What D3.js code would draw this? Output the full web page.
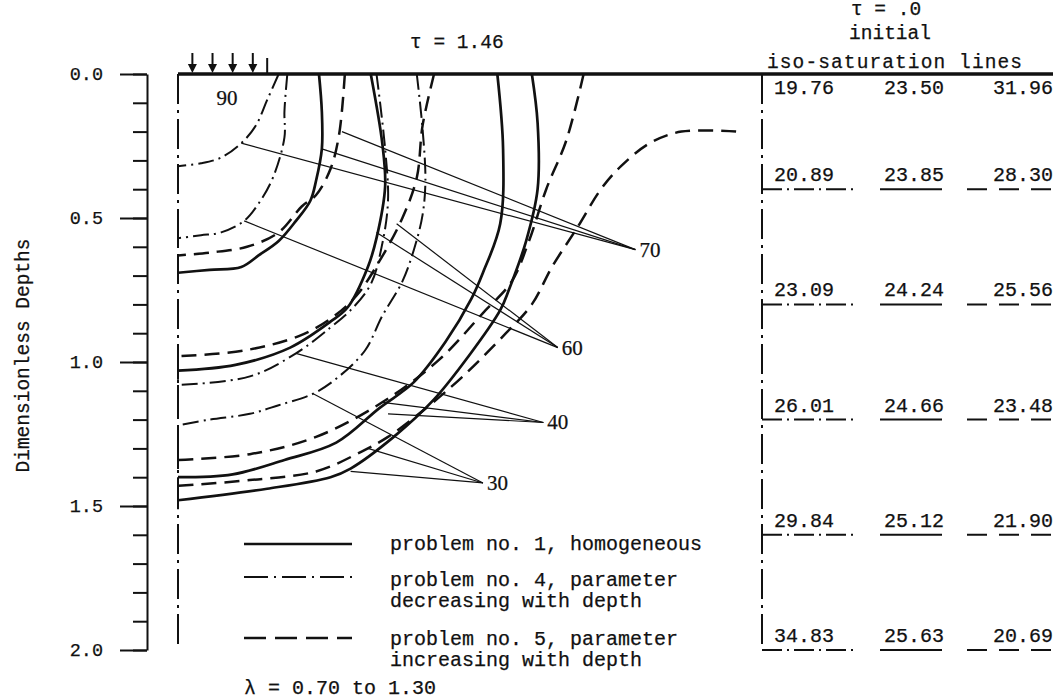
<!DOCTYPE html>
<html>
<head>
<meta charset="utf-8">
<style>
  body { margin: 0; background: #fff; }
  svg { display: block; background: #fff; }
  svg text { font-family: "Liberation Mono", "Courier New", monospace; font-size: 19.5px; fill: #111; stroke: #111; stroke-width: 0.25px; }
  svg .num-label { font-family: "Liberation Serif", "Times New Roman", serif; font-size: 21px; }
  svg .tick text { font-size: 18.5px; }
  svg .table-num { font-size: 20px; }
  svg .legend-text { font-size: 20px; }
  .curve { fill: none; stroke: #111; stroke-linejoin: round; }
  .p1 { stroke-width: 2.7px; }
  .p4 { stroke-width: 2px; stroke-dasharray: 16 5 2 5; }
  .p5 { stroke-width: 2.5px; stroke-dasharray: 15 8; }
  .leader { stroke: #111; stroke-width: 1.2px; }
  .axis path, .axis line { stroke: #111; stroke-width: 2px; }
  .frame { stroke: #111; fill: none; }
</style>
</head>
<body>
<div id="chart"></div>
<script src="https://cdn.jsdelivr.net/npm/d3@7"></script>
<script>
// ---- data: depth ticks ----
var majorTicks = [0, 0.5, 1.0, 1.5, 2.0];
var minorTicks = d3.range(0, 21).map(function (i) { return i / 10; });

// ---- iso-saturation lines at tau = 1.46, points are [distance, depth] ----
// problem no. 1 (homogeneous)
var p1_70 = [[0.49,0],[0.50,0.13],[0.50,0.26],[0.48,0.37],[0.46,0.44],[0.41,0.51],[0.35,0.58],[0.28,0.63],[0.22,0.67],[0.11,0.68],[0,0.69]];
var p1_60 = [[0.67,0],[0.71,0.24],[0.72,0.39],[0.69,0.57],[0.66,0.67],[0.59,0.81],[0.53,0.86],[0.39,0.95],[0.20,1.01],[0,1.03]];
var p1_40 = [[1.11,0],[1.13,0.26],[1.12,0.52],[1.06,0.69],[1.02,0.78],[0.93,0.93],[0.82,1.07],[0.70,1.16],[0.55,1.28],[0.37,1.34],[0.19,1.39],[0,1.40]];
var p1_30 = [[1.23,0],[1.25,0.17],[1.25,0.40],[1.21,0.58],[1.15,0.75],[1.12,0.82],[1.01,0.98],[0.89,1.13],[0.75,1.26],[0.60,1.37],[0.53,1.40],[0.31,1.44],[0,1.48]];
// problem no. 4 (parameter decreasing with depth)
var p4_70 = [[0.35,0],[0.31,0.09],[0.27,0.18],[0.22,0.24],[0.15,0.29],[0.08,0.31],[0,0.32]];
var p4_60 = [[0.38,0],[0.37,0.13],[0.37,0.22],[0.33,0.36],[0.28,0.45],[0.23,0.51],[0.15,0.55],[0.08,0.56],[0,0.57]];
var p4_40 = [[0.69,0],[0.72,0.26],[0.73,0.44],[0.71,0.59],[0.67,0.73],[0.60,0.82],[0.53,0.88],[0.41,0.97],[0.25,1.05],[0,1.08]];
var p4_30 = [[0.83,0],[0.85,0.19],[0.86,0.37],[0.85,0.49],[0.82,0.61],[0.78,0.72],[0.71,0.84],[0.65,0.96],[0.56,1.05],[0.47,1.11],[0.35,1.15],[0.25,1.18],[0.11,1.20],[0,1.22]];
// problem no. 5 (parameter increasing with depth)
var p5_70 = [[0.58,0],[0.56,0.21],[0.53,0.33],[0.48,0.42],[0.43,0.46],[0.35,0.55],[0.24,0.60],[0.11,0.62],[0,0.63]];
var p5_60 = [[0.89,0],[0.85,0.18],[0.83,0.36],[0.78,0.50],[0.70,0.65],[0.62,0.77],[0.53,0.85],[0.42,0.91],[0.23,0.96],[0,0.98]];
var p5_40 = [[1.41,0],[1.35,0.23],[1.28,0.40],[1.22,0.58],[1.16,0.72],[1.06,0.83],[0.91,0.99],[0.71,1.14],[0.48,1.26],[0.25,1.32],[0,1.34]];
var p5_30 = [[1.94,0.20],[1.75,0.20],[1.64,0.24],[1.54,0.32],[1.47,0.40],[1.39,0.53],[1.30,0.67],[1.23,0.80],[1.14,0.90],[0.99,1.05],[0.85,1.17],[0.73,1.26],[0.64,1.31],[0.48,1.38],[0.25,1.41],[0,1.43]];

// ---- level labels and their leader lines ----
var levels = [70, 60, 40, 30];
var levelLabelAt = [[1.59,0.61],[1.32,0.95],[1.27,1.21],[1.06,1.42]];
var leaderFrom = [
  [[0.22,0.24],[0.50,0.26],[0.57,0.20]],
  [[0.23,0.51],[0.69,0.55],[0.76,0.52]],
  [[0.41,0.97],[0.71,1.14],[0.73,1.18]],
  [[0.47,1.11],[0.66,1.30],[0.60,1.38]]
];
var topLabel = { text: "90", at: [0.17, 0.085] };

// ---- surface load arrows ----
var arrowX = [0.05, 0.12, 0.19, 0.26];
var loadEdgeX = 0.31;

// ---- tau = 0 initial iso-saturation lines ----
var initDepths = [0, 0.4, 0.8, 1.2, 1.6, 2.0];
var initProb4 = [19.76, 20.89, 23.09, 26.01, 29.84, 34.83];
var initProb1 = [23.50, 23.85, 24.24, 24.66, 25.12, 25.63];
var initProb5 = [31.96, 28.30, 25.56, 23.48, 21.90, 20.69];

var width = 1057, height = 699;

var svg = d3.select("#chart").append("svg")
  .attr("width", width)
  .attr("height", height);

var x = d3.scaleLinear().domain([0, 2.03]).range([178, 762]);
var y = d3.scaleLinear().domain([0, 2]).range([74, 650]);

var line = d3.line()
  .x(function (d) { return x(d[0]); })
  .y(function (d) { return y(d[1]); })
  .curve(d3.curveCatmullRom.alpha(0.5));

////////// depth axis //////////
var axisG = svg.append("g").attr("class", "axis").attr("transform", "translate(147,0)");
axisG.call(d3.axisLeft(y).tickValues(minorTicks).tickSize(14).tickSizeOuter(0).tickFormat(""));
var majorG = axisG.append("g").call(d3.axisLeft(y).tickValues(majorTicks).tickSize(27).tickPadding(17).tickFormat(d3.format(".1f")));
majorG.select(".domain").remove();
axisG.selectAll("text").attr("fill", "#111");

svg.append("text")
  .attr("transform", "translate(24," + ((238 + 473) / 2) + ") rotate(-90)")
  .attr("text-anchor", "middle")
  .attr("dominant-baseline", "central")
  .text("Dimensionless Depths");

////////// frame //////////
svg.append("line").attr("class", "frame")
  .attr("x1", x(0)).attr("x2", 1053).attr("y1", y(0)).attr("y2", y(0))
  .attr("stroke-width", 3.5);

svg.append("line").attr("class", "frame")
  .attr("x1", x(0)).attr("x2", x(0)).attr("y1", y(0)).attr("y2", y(2))
  .attr("stroke-width", 2).attr("stroke-dasharray", "30 6 3 6");

svg.append("line").attr("class", "frame")
  .attr("x1", x(2.03)).attr("x2", x(2.03)).attr("y1", y(0)).attr("y2", y(2))
  .attr("stroke-width", 2).attr("stroke-dasharray", "30 6 3 6");

// load arrows
var arrows = svg.append("g");
arrowX.forEach(function (a) {
  arrows.append("line").attr("class", "frame").attr("stroke-width", 2)
    .attr("x1", x(a)).attr("x2", x(a)).attr("y1", 53).attr("y2", y(0) - 6);
  arrows.append("path")
    .attr("d", "M" + (x(a) - 4.5) + "," + (y(0) - 10) + "L" + (x(a) + 4.5) + "," + (y(0) - 10) + "L" + x(a) + "," + (y(0) - 1) + "Z")
    .attr("fill", "#111");
});
arrows.append("line").attr("class", "frame").attr("stroke-width", 2)
  .attr("x1", x(loadEdgeX)).attr("x2", x(loadEdgeX)).attr("y1", 58).attr("y2", y(0));

svg.append("text").attr("x", 410).attr("y", 48).text("\u03c4 = 1.46");

////////// curves //////////
var curves = [
  { cls: "p1", pts: p1_70 }, { cls: "p1", pts: p1_60 }, { cls: "p1", pts: p1_40 }, { cls: "p1", pts: p1_30 },
  { cls: "p4", pts: p4_70 }, { cls: "p4", pts: p4_60 }, { cls: "p4", pts: p4_40 }, { cls: "p4", pts: p4_30 },
  { cls: "p5", pts: p5_70 }, { cls: "p5", pts: p5_60 }, { cls: "p5", pts: p5_40 }, { cls: "p5", pts: p5_30 }
];

var curveG = svg.append("g");
curveG.selectAll("path")
  .data(curves)
  .enter().append("path")
  .attr("class", function (d) { return "curve " + d.cls; })
  .attr("d", function (d) { return line(d.pts); });

// short hand-drawn drop where each line meets the centre line
curveG.selectAll("line")
  .data(curves)
  .enter().append("line")
  .attr("class", "frame")
  .attr("stroke-width", 2)
  .attr("x1", x(0)).attr("x2", x(0))
  .attr("y1", function (d) { return y(d.pts[d.pts.length - 1][1]); })
  .attr("y2", function (d) { return y(d.pts[d.pts.length - 1][1]) + 9; });

// leader lines and labels
levels.forEach(function (lv, i) {
  var to = levelLabelAt[i];
  leaderFrom[i].forEach(function (p) {
    svg.append("line").attr("class", "leader")
      .attr("x1", x(p[0])).attr("y1", y(p[1]))
      .attr("x2", x(to[0])).attr("y2", y(to[1]));
  });
  svg.append("text").attr("class", "num-label")
    .attr("x", x(to[0]) + 4).attr("y", y(to[1]))
    .attr("dominant-baseline", "central")
    .text(lv);
});

svg.append("text").attr("class", "num-label")
  .attr("x", x(topLabel.at[0])).attr("y", y(topLabel.at[1]))
  .attr("text-anchor", "middle").attr("dominant-baseline", "central")
  .text(topLabel.text);

////////// initial iso-saturation table //////////
svg.append("text").attr("x", 886).attr("y", 15).attr("text-anchor", "middle").text("\u03c4 = .0");
svg.append("text").attr("x", 890).attr("y", 39).attr("text-anchor", "middle").text("initial");
svg.append("text").attr("x", 767).attr("y", 68).attr("textLength", 255).text("iso-saturation lines");

var fmt = d3.format(".2f");
var cols = [
  { vals: initProb4, tx: 774, x1: 762, x2: 853, dash: "20 5 2 5" },
  { vals: initProb1, tx: 884, x1: 880, x2: 942, dash: null },
  { vals: initProb5, tx: 993, x1: 967, x2: 1053, dash: "20 12" }
];

cols.forEach(function (c) {
  var g = svg.append("g");
  g.selectAll("text")
    .data(initDepths)
    .enter().append("text")
    .attr("class", "table-num")
    .attr("x", c.tx)
    .attr("y", function (d) { return d === 0 ? y(d) + 20 : y(d) - 8; })
    .text(function (d, i) { return fmt(c.vals[i]); });
  g.selectAll("line")
    .data(initDepths.filter(function (d) { return d > 0; }))
    .enter().append("line")
    .attr("class", "frame")
    .attr("stroke-width", 2)
    .attr("stroke-dasharray", c.dash)
    .attr("x1", c.x1).attr("x2", c.x2)
    .attr("y1", function (d) { return y(d); })
    .attr("y2", function (d) { return y(d); });
});

////////// legend //////////
var legend = [
  { cls: "p1", ly: 544, ty: 550, lines: ["problem no. 1, homogeneous"] },
  { cls: "p4", ly: 577, ty: 586, lines: ["problem no. 4, parameter", "decreasing with depth"] },
  { cls: "p5", ly: 638, ty: 645, lines: ["problem no. 5, parameter", "increasing with depth"] }
];
legend.forEach(function (l) {
  svg.append("path").attr("class", "curve " + l.cls)
    .style("stroke-dasharray", l.cls === "p4" ? "24 6 2 6" : (l.cls === "p5" ? "22 9" : null))
    .attr("d", "M244," + l.ly + "H352");
  l.lines.forEach(function (t, i) {
    svg.append("text").attr("class", "legend-text")
      .attr("x", 390).attr("y", l.ty + i * 21).text(t);
  });
});
svg.append("text").attr("class", "legend-text").attr("x", 244).attr("y", 694).text("\u03bb = 0.70 to 1.30");
</script>
</body>
</html>
